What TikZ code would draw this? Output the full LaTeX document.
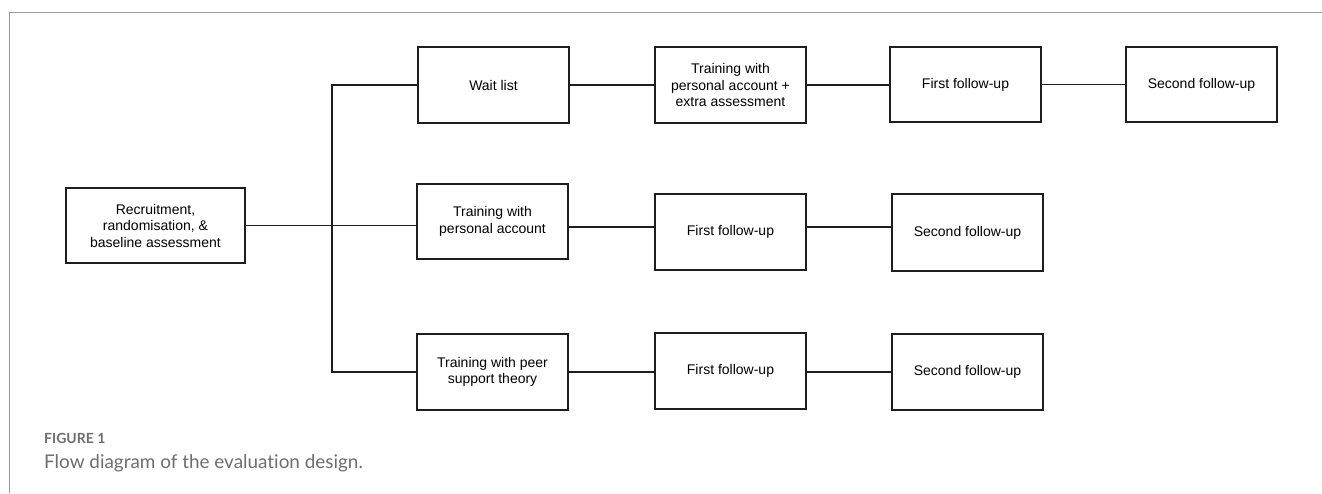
\documentclass[tikz,border=0pt]{standalone}
\usepackage{fontspec}
\setmainfont{Liberation Sans}
\newfontfamily\capfont[Ligatures={NoCommon,NoDiscretionary,NoContextual}]{Lato}
\definecolor{framegray}{HTML}{9A9A9A}
\definecolor{capgray}{HTML}{6E6E6E}
\definecolor{ink}{HTML}{1E1E1E}
\begin{document}
\begin{tikzpicture}[x=1pt,y=-1pt,
  stepbox/.style={draw=ink, line width=1.6pt, minimum width=151pt, minimum height=76pt,
    inner sep=2pt, align=center, text=black, font=\fontsize{14}{16.5}\selectfont},
  link/.style={draw=ink, line width=1.5pt},
  frameline/.style={draw=framegray, line width=1pt}]
\useasboundingbox (0,0) rectangle (1322,493);
\fill[white] (0,0) rectangle (1322,493);
\draw[frameline] (1322,12) -- (9,12) -- (9,493);

\node[stepbox, minimum width=179pt, minimum height=75pt] (rec) at (155.5,225.5) {Recruitment,\\randomisation, \&\\baseline assessment};
\node[stepbox] (wl)  at (493.5,85)   {Wait list};
\node[stepbox] (tpe) at (730.5,85)   {Training with\\personal account +\\extra assessment};
\node[stepbox, minimum height=75pt] (ff1) at (965.5,84.5)  {First follow-up};
\node[stepbox, minimum height=75pt] (sf1) at (1201.5,84.5) {Second follow-up};
\node[stepbox, minimum height=75pt] (tpa) at (492.5,221.5) {Training with\\personal account};
\node[stepbox] (ff2) at (730.5,232)  {First follow-up};
\node[stepbox, minimum height=77pt] (sf2) at (967.5,232.5) {Second follow-up};
\node[stepbox] (tps) at (492.5,372)  {Training with peer\\support theory};
\node[stepbox] (ff3) at (730.5,371)  {First follow-up};
\node[stepbox] (sf3) at (967.5,372)  {Second follow-up};

\coordinate (tt) at (332,85);
\coordinate (tb) at (332,372);
\draw[link] (wl.west) -- (tt) -- (tb) -- (tps.west);
\draw[link] (rec.east) -- (rec.east -| tpa.west);
\draw[link] (wl) -- (tpe);
\draw[link] (tpe.east) -- (tpe.east -| ff1.west);
\draw[link] (ff1) -- (sf1);
\coordinate (r2) at (0,227);
\draw[link] (tpa.east |- r2) -- (ff2.west |- r2);
\draw[link] (ff2.east |- r2) -- (sf2.west |- r2);
\draw[link] (tps.east |- tb) -- (ff3.west |- tb);
\draw[link] (ff3.east |- tb) -- (sf3.west |- tb);

\node[anchor=base west, inner sep=0pt, text=capgray, font=\capfont\bfseries\fontsize{14}{16}\selectfont] (figlabel) at (44,443) {FIGURE 1};
\node[anchor=base west, inner sep=0pt, text=capgray, font=\capfont\fontsize{18.9}{22}\selectfont] (figcap) at (44,468) {Flow diagram of the evaluation design.};
\end{tikzpicture}
\end{document}
